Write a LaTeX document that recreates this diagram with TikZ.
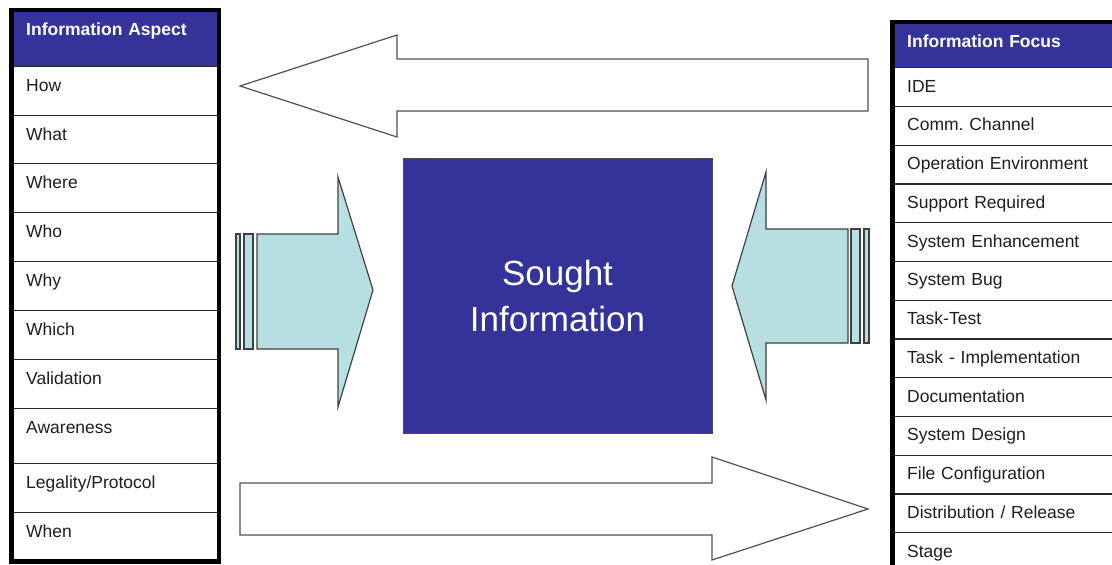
\documentclass[tikz,border=0pt]{standalone}
\usepackage{fontspec}
\setmainfont{Liberation Sans}
\frenchspacing
\definecolor{hdrblue}{RGB}{51,51,153}
\definecolor{paleblue}{RGB}{183,222,225}
\definecolor{rowtext}{RGB}{30,30,30}
\definecolor{edgegray}{RGB}{80,80,80}
\begin{document}
\begin{tikzpicture}[x=1pt,y=-1pt,
  cell/.style={draw=black!85, line width=1.4pt, rectangle, anchor=north west,
    inner ysep=0pt, inner xsep=0pt, align=left, text=rowtext,
    font=\fontsize{17.5}{20}\selectfont},
  lrow/.style={cell, text width=206pt},
  rrow/.style={cell, text width=223pt, text height=24.5pt, text depth=14.25pt},
  hdr/.style={cell, fill=hdrblue, text=white, font=\bfseries\fontsize{17.5}{20}\selectfont},
  outline/.style={draw=black, line width=4.5pt},
  whitearrow/.style={draw=edgegray, line width=1.2pt, fill=white, line join=miter},
  cyanarrow/.style={draw=edgegray!80!black, line width=1.2pt, fill=paleblue, line join=miter},
  core/.style={rectangle, fill=hdrblue, draw=black!70, line width=0.8pt,
    minimum width=309pt, minimum height=275pt, text=white, align=center,
    font=\fontsize{35}{46}\selectfont}
]
\useasboundingbox (0,0) rectangle (1112,565);
\clip (0,0) rectangle (1112,565);

% ---- left table: information aspect ----
\newcommand{\lcell}[4]{%
  \node[lrow, text height=24.5pt, text depth=#3-24.5pt] (#1) at (11.5,#2) {\hspace*{14pt}#4};}
\node[hdr, text width=206pt, text height=24.5pt, text depth=31.5pt] (lh) at (11.5,10) {\hspace*{14pt}Information Aspect};
\lcell{l1}{66}{49pt}{How}
\lcell{l2}{115}{48pt}{What}
\lcell{l3}{163}{49pt}{Where}
\lcell{l4}{212}{49pt}{Who}
\lcell{l5}{261}{49pt}{Why}
\lcell{l6}{310}{49pt}{Which}
\lcell{l7}{359}{49pt}{Validation}
\lcell{l8}{408}{55pt}{Awareness}
\lcell{l9}{463}{49pt}{Legality/Protocol}
\lcell{l10}{512}{48pt}{When}
\draw[outline] (lh.north west) rectangle (l10.south east);

% ---- right table: information focus ----
\newcommand{\rcell}[3]{%
  \node[rrow] (#1) at (892.5,#2) {\hspace*{14pt}#3};}
\node[hdr, text width=223pt, text height=24.5pt, text depth=20.5pt] (rh) at (892.5,22) {\hspace*{14pt}Information Focus};
\rcell{r1}{67}{IDE}
\rcell{r2}{105.75}{Comm. Channel}
\rcell{r3}{144.5}{Operation Environment}
\rcell{r4}{183.25}{Support Required}
\rcell{r5}{222}{System Enhancement}
\rcell{r6}{260.75}{System Bug}
\rcell{r7}{299.5}{Task-Test}
\rcell{r8}{338.25}{Task - Implementation}
\rcell{r9}{377}{Documentation}
\rcell{r10}{415.75}{System Design}
\rcell{r11}{454.5}{File Configuration}
\rcell{r12}{493.25}{Distribution / Release}
\rcell{r13}{532}{Stage}
\draw[outline] (rh.north west) rectangle (r13.south east);

% ---- central box ----
\node[core] (core) at (557.5,295.5) {Sought\\Information};

% ---- white block arrows ----
\draw[whitearrow] (868,59) -- (397,59) -- (397,35) -- (240,86) -- (397,137)
  -- (397,111) -- (868,111) -- cycle;
\draw[whitearrow] (240,483) -- (712,483) -- (712,457) -- (868,509) -- (712,560)
  -- (712,535) -- (240,535) -- cycle;

% ---- pale blue block arrows with tail stripes ----
\draw[cyanarrow] (236,234) rectangle (240,349);
\draw[cyanarrow] (244,234) rectangle (253,349);
\draw[cyanarrow] (257,234) -- (338,234) -- (338,177) -- (373,290) -- (338,407)
  -- (338,349) -- (257,349) -- cycle;

\draw[cyanarrow] (851,229) rectangle (860,343);
\draw[cyanarrow] (864,229) rectangle (869,343);
\draw[cyanarrow] (848,229) -- (766,229) -- (766,172) -- (732,286) -- (766,400)
  -- (766,343) -- (848,343) -- cycle;
\end{tikzpicture}
\end{document}
